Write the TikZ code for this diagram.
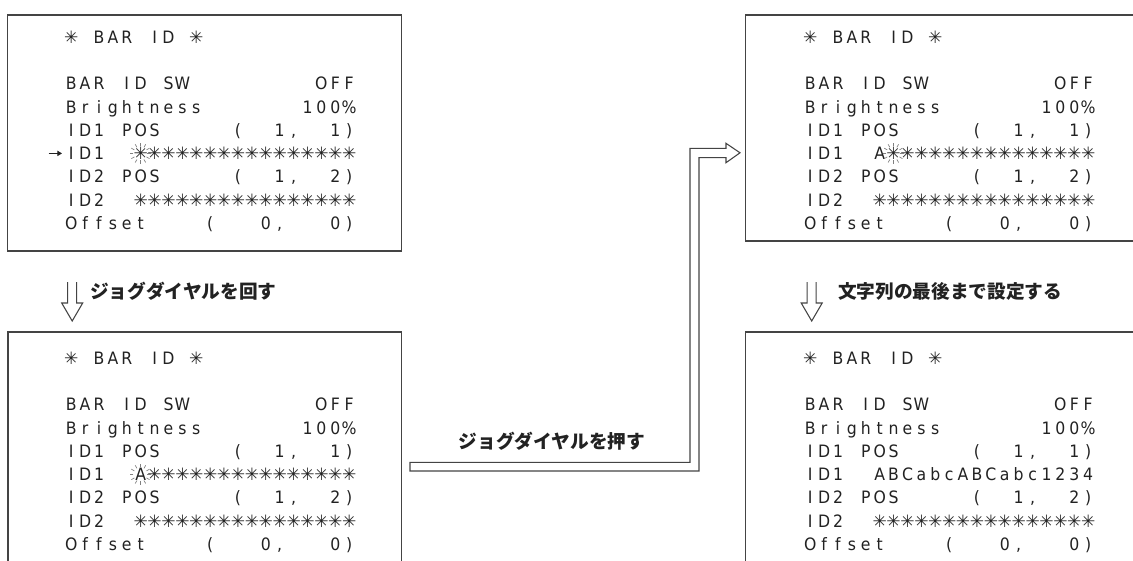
\documentclass[tikz,border=0pt]{standalone}
\usepackage{fontspec}
\setmainfont{Liberation Sans}
\newfontfamily\monof[FakeStretch=0.92]{DejaVu Sans}
\newfontfamily\jpfont{Noto Sans CJK JP}
\newfontfamily\djv{DejaVu Sans}
\usetikzlibrary{arrows.meta,calc,fit}
\definecolor{ink}{HTML}{222222}
\definecolor{linec}{HTML}{444444}
\definecolor{sparkc}{HTML}{808080}
\newlength\cw \setlength\cw{10.425pt}
\def\endrunmark{ENDRUNMARK}
\def\astk{\raisebox{-0.1pt}{\djv\fontsize{12.8}{12.8}\selectfont ✳}}
\def\cellone#1{\makebox[\cw][c]{\ifx#1_\else\ifx#1*\astk\else#1\fi\fi}}
\def\cellrun#1{\ifx#1\endrunmark\else\cellone#1\expandafter\cellrun\fi}
\tikzset{
  txt/.style={anchor=base west, inner sep=0pt, text=ink, font=\monof\fontsize{12.8}{13}\selectfont},
  lbl/.style={anchor=west, inner sep=0pt, text=ink, font=\jpfont\bfseries\fontsize{14}{16}\selectfont},
  screenbox/.style={draw=linec, line width=0.9pt, inner sep=0pt},
  hollow/.style={draw=linec, line width=0.8pt, fill=white, line join=miter},
  spark/.style={draw=sparkc, line width=0.5pt}
}
\newcommand\screen[5]{%
  \node[txt] (#1t) at (#2,#3+6.2) {\cellrun*_BAR_ID_*\endrunmark};
  \node[txt] (#1a) at (#2,#4+6.2) {\cellrun BAR_ID_SW_________OFF\endrunmark};
  \node[txt] (#1b) at (#2,#4+23.3+6.2) {\cellrun Brightness_______100\%\endrunmark};
  \node[txt] (#1c) at (#2,#4+46.6+6.2) {\cellrun ID1_POS_____(__1,__1)\endrunmark};
  \node[txt] (#1d) at (#2,#4+69.9+6.2) {\cellrun #5\endrunmark};
  \node[txt] (#1e) at (#2,#4+93.2+6.2) {\cellrun ID2_POS_____(__1,__2)\endrunmark};
  \node[txt] (#1f) at (#2,#4+116.5+6.2) {\cellrun ID2__****************\endrunmark};
  \node[txt] (#1g) at (#2,#4+139.8+6.2) {\cellrun Offset____(___0,___0)\endrunmark};
}
\newcommand\sparkat[1]{%
  \foreach \a in {0,30,...,330}{\draw[spark] ($(#1)+(\a:7)$) -- ($(#1)+(\a:10.5)$);}}
\newcommand\hollowdown[1]{%
  \draw[hollow] (#1-4.5,282) -- (#1-4.5,303) -- (#1-10.5,303) -- (#1,321) -- (#1+10.5,303) -- (#1+4.5,303) -- (#1+4.5,282);}
\begin{document}
\begin{tikzpicture}[x=0.75pt,y=-0.75pt]
\useasboundingbox (0,0) rectangle (1133,561);
\fill[white] (0,0) rectangle (1133,561);
\clip (0,0) rectangle (1133,561);
% boxes
\node[screenbox, fit={(7.5,15) (401.7,251)}] (tlbox) {};
\node[screenbox, fit={(8,332) (401.7,620)}] (blbox) {};
\node[screenbox, fit={(745.7,15) (1170,241)}] (trbox) {};
\node[screenbox, fit={(745.7,332) (1170,620)}] (brbox) {};
% screens
\screen{tl}{64}{37.5}{83.5}{ID1__****************}
\screen{bl}{64}{358.3}{404.5}{ID1__A***************}
\screen{tr}{803}{37.5}{83.5}{ID1__A***************}
\screen{br}{803}{358.3}{404.5}{ID1__ABCabcABCabc1234}
% sparkles
\coordinate (s1) at (140.45,153.4);
\coordinate (s2) at (140.45,474.4);
\coordinate (s3) at (893.35,153.4);
\sparkat{s1}
\sparkat{s2}
\sparkat{s3}
% cursor arrow
\coordinate (cur) at ($(tld.base west)+(-15.5,-6.2)$);
\draw[draw=ink, line width=0.7pt, -{Triangle[length=3.5pt,width=4pt]}] (cur) -- ++(13.5,0);
% step labels with hollow arrows
\hollowdown{72.2}
\node[lbl] (l1) at (90,291.7) {ジョグダイヤルを回す};
\hollowdown{811.7}
\node[lbl] (l2) at (838,291.7) {文字列の最後まで設定する};
% big hollow connector
\coordinate (cs) at (410,466.7);
\coordinate (ce) at (740,152.8);
\draw[hollow] (410,462.3) -- (690,462.3) -- (690,148.3) -- (726,148.3) -- (726,143.3)
  -- (ce) -- (726,162.7) -- (726,157.7) -- (699,157.7) -- (699,471) -- (410,471) -- cycle;
\node[lbl, anchor=center] (l3) at (552,441.7) {ジョグダイヤルを押す};
\end{tikzpicture}
\end{document}
